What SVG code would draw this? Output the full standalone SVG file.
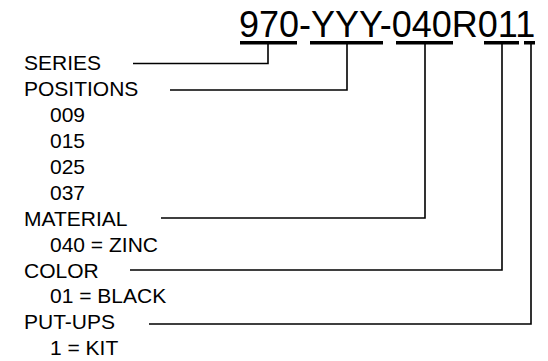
<svg xmlns="http://www.w3.org/2000/svg" width="548" height="361" viewBox="0 0 548 361">
<style>
.t{font-family:"Liberation Sans",Arial,sans-serif;font-size:21px;fill:#000}
.h{font-family:"Liberation Sans",Arial,sans-serif;font-size:36px;fill:#000}
.bar{fill:#000}
.c{fill:none;stroke:#000;stroke-width:1.6}
</style>
<rect width="548" height="361" fill="#fff"/>
<g id="part-number">
<text class="h" x="239" y="37">970-YYY-040R011</text>
<rect class="bar" x="240" y="41" width="57" height="3.5"/>
<rect class="bar" x="310" y="41" width="73" height="3.5"/>
<rect class="bar" x="396" y="41" width="57" height="3.5"/>
<rect class="bar" x="484" y="41" width="35" height="3.5"/>
<rect class="bar" x="524" y="41" width="11" height="3.5"/>
</g>
<g id="series"><text class="t" x="24" y="70">SERIES</text></g>
<g id="positions">
<text class="t" x="24" y="96">POSITIONS</text>
<text class="t" x="50" y="122">009</text>
<text class="t" x="50" y="148">015</text>
<text class="t" x="50" y="174">025</text>
<text class="t" x="50" y="200">037</text>
</g>
<g id="material">
<text class="t" x="24" y="225.5">MATERIAL</text>
<text class="t" x="50" y="251.5">040 = ZINC</text>
</g>
<g id="color">
<text class="t" x="24" y="277.5">COLOR</text>
<text class="t" x="50" y="303">01 = BLACK</text>
</g>
<g id="put-ups">
<text class="t" x="24" y="329">PUT-UPS</text>
<text class="t" x="50" y="355">1 = KIT</text>
</g>
<g id="connectors">
<polyline class="c" points="133,63.5 268,63.5 268,43"/>
<polyline class="c" points="170,90 347,90 347,43"/>
<polyline class="c" points="161,218 425,218 425,43"/>
<polyline class="c" points="130,270 502,270 502,43"/>
<polyline class="c" points="149,324 531,324 531,43"/>
</g>
</svg>
